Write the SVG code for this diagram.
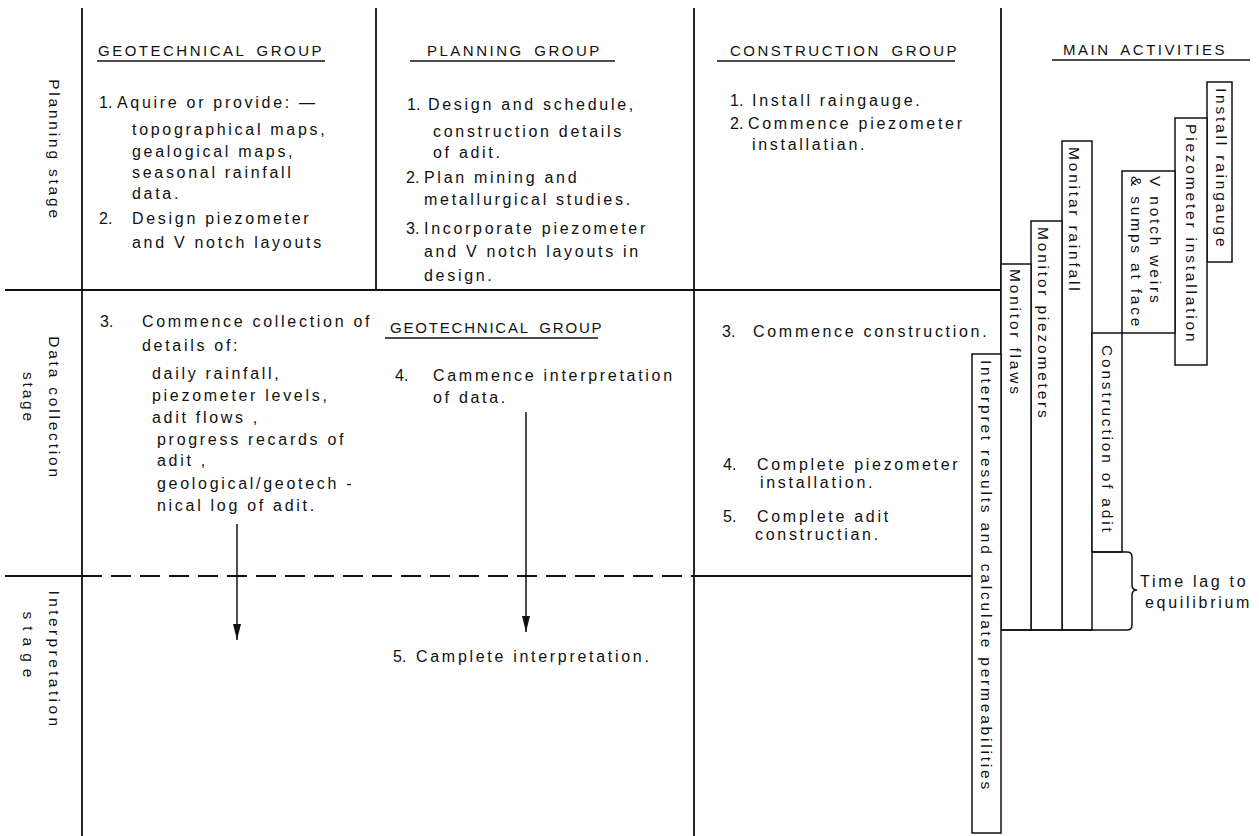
<svg xmlns="http://www.w3.org/2000/svg" width="1259" height="836" viewBox="0 0 1259 836">
  <defs>
    <marker id="arrowhead" viewBox="0 0 16 8" refX="16" refY="4" markerWidth="16" markerHeight="8" markerUnits="userSpaceOnUse" orient="auto">
      <path d="M0,0 L16,4 L0,8 z" fill="#111"/>
    </marker>
    <style>
      .t { font-family: "Liberation Sans", Arial, sans-serif; font-size: 16px; letter-spacing: 2.7px; fill: #111; }
      .n { letter-spacing: 0; }
      .h { font-size: 15px; letter-spacing: 2.5px; word-spacing: 4px; }
      .v { font-size: 15.5px; letter-spacing: 2.8px; }
      .frame { stroke: #111; stroke-width: 1.8; fill: none; }
      .rule { stroke: #111; stroke-width: 1.3; fill: none; }
      .box { fill: #fff; stroke: #111; stroke-width: 1.5; }
      .arrow { stroke: #111; stroke-width: 1.5; fill: none; marker-end: url(#arrowhead); }
    </style>
  </defs>

  <rect width="1259" height="836" fill="#fff"/>

  <!-- table frame -->
  <g id="frame">
    <line class="frame" x1="82" y1="8" x2="82" y2="836"/>
    <line class="frame" x1="376" y1="8" x2="376" y2="290"/>
    <line class="frame" x1="694" y1="8" x2="694" y2="836"/>
    <line class="frame" x1="1001" y1="8" x2="1001" y2="630"/>
    <line class="frame" x1="5" y1="290" x2="1001" y2="290"/>
    <line class="frame" x1="5" y1="576" x2="82" y2="576"/>
    <line class="frame" x1="82" y1="576" x2="694" y2="576" stroke-dasharray="20 9"/>
    <line class="frame" x1="694" y1="576" x2="972" y2="576"/>
  </g>

  <!-- stage labels -->
  <g id="stage-planning">
    <text class="t v" text-anchor="middle" transform="translate(49,150) rotate(90)">Planning stage</text>
  </g>
  <g id="stage-data">
    <text class="t v" text-anchor="middle" transform="translate(49,408) rotate(90)">Data collection</text>
    <text class="t v" text-anchor="middle" transform="translate(23,398) rotate(90)">stage</text>
  </g>
  <g id="stage-interpretation">
    <text class="t v" text-anchor="middle" style="letter-spacing:3.4px" transform="translate(49,660) rotate(90)">Interpretation</text>
    <text class="t v" text-anchor="middle" style="letter-spacing:7px" transform="translate(23,648) rotate(90)">stage</text>
  </g>

  <!-- column headings -->
  <g id="head-geotechnical">
    <text class="t h" x="98" y="56">GEOTECHNICAL GROUP</text>
    <line class="rule" x1="97" y1="61" x2="325" y2="61"/>
  </g>
  <g id="head-planning">
    <text class="t h" x="427" y="56">PLANNING GROUP</text>
    <line class="rule" x1="410" y1="61" x2="615" y2="61"/>
  </g>
  <g id="head-construction">
    <text class="t h" x="730" y="56">CONSTRUCTION GROUP</text>
    <line class="rule" x1="717" y1="61" x2="955" y2="61"/>
  </g>
  <g id="head-main">
    <text class="t h" x="1063" y="55">MAIN ACTIVITIES</text>
    <line class="rule" x1="1052" y1="60" x2="1250" y2="60"/>
  </g>

  <!-- planning stage entries -->
  <g id="geo-planning">
    <text class="t n" x="99" y="108">1.</text>
    <text class="t" x="117" y="108">Aquire or provide: —</text>
    <text class="t" x="132" y="135">topographical maps,</text>
    <text class="t" x="132" y="157">gealogical maps,</text>
    <text class="t" x="132" y="178">seasonal rainfall</text>
    <text class="t" x="132" y="199">data.</text>
    <text class="t n" x="99" y="224">2.</text>
    <text class="t" x="132" y="224">Design piezometer</text>
    <text class="t" x="132" y="248">and V notch layouts</text>
  </g>
  <g id="plan-planning">
    <text class="t n" x="407" y="110">1.</text>
    <text class="t" x="428" y="110">Design and schedule,</text>
    <text class="t" x="433" y="137">construction details</text>
    <text class="t" x="433" y="158">of adit.</text>
    <text class="t n" x="406" y="183">2.</text>
    <text class="t" x="424" y="183">Plan mining and</text>
    <text class="t" x="424" y="205">metallurgical studies.</text>
    <text class="t n" x="406" y="234">3.</text>
    <text class="t" x="424" y="234">Incorporate piezometer</text>
    <text class="t" x="424" y="257">and V notch layouts in</text>
    <text class="t" x="424" y="281">design.</text>
  </g>
  <g id="con-planning">
    <text class="t n" x="730" y="106">1.</text>
    <text class="t" x="752" y="106">Install raingauge.</text>
    <text class="t n" x="730" y="129">2.</text>
    <text class="t" x="748" y="129">Commence piezometer</text>
    <text class="t" x="752" y="150">installatian.</text>
  </g>

  <!-- data collection stage entries -->
  <g id="geo-data">
    <text class="t n" x="100" y="327">3.</text>
    <text class="t" x="142" y="327">Commence collection of</text>
    <text class="t" x="142" y="351">details of:</text>
    <text class="t" x="152" y="379">daily rainfall,</text>
    <text class="t" x="152" y="401">piezometer levels,</text>
    <text class="t" x="152" y="423">adit flows ,</text>
    <text class="t" x="157" y="445">progress recards of</text>
    <text class="t" x="157" y="466">adit ,</text>
    <text class="t" x="157" y="489">geological/geotech -</text>
    <text class="t" x="157" y="511">nical log of adit.</text>
  </g>
  <g id="geo-interpretation">
    <text class="t h" style="letter-spacing:1.8px" x="390" y="333">GEOTECHNICAL GROUP</text>
    <line class="rule" x1="385" y1="338" x2="598" y2="338"/>
    <text class="t n" x="395" y="381">4.</text>
    <text class="t" x="433" y="381">Cammence interpretation</text>
    <text class="t" x="433" y="403">of data.</text>
    <text class="t n" x="393" y="662">5.</text>
    <text class="t" x="416" y="662">Camplete interpretation.</text>
  </g>
  <g id="con-data">
    <text class="t n" x="722" y="337">3.</text>
    <text class="t" x="753" y="337">Commence construction.</text>
    <text class="t n" x="723" y="470">4.</text>
    <text class="t" x="757" y="470">Complete piezometer</text>
    <text class="t" x="760" y="488">installation.</text>
    <text class="t n" x="723" y="522">5.</text>
    <text class="t" x="757" y="522">Complete adit</text>
    <text class="t" x="755" y="540">constructian.</text>
  </g>

  <!-- activity bars -->
  <g id="bar-install-raingauge">
    <rect class="box" x="1207" y="82" width="25" height="180"/>
    <text class="t v" transform="translate(1216,88) rotate(90)">Install raingauge</text>
  </g>
  <g id="bar-piezometer-installation">
    <rect class="box" x="1175" y="118" width="32" height="247"/>
    <text class="t v" transform="translate(1186,124) rotate(90)">Piezometer installation</text>
  </g>
  <g id="bar-v-notch">
    <rect class="box" x="1122" y="171" width="53" height="162"/>
    <text class="t v" transform="translate(1150,176) rotate(90)">V notch weirs</text>
    <text class="t v" transform="translate(1131,176) rotate(90)">&amp; sumps at face</text>
  </g>
  <g id="bar-monitor-rainfall">
    <rect class="box" x="1062" y="141" width="30" height="489"/>
    <text class="t v" transform="translate(1069,147) rotate(90)">Monitar rainfall</text>
  </g>
  <g id="bar-monitor-piezometers">
    <rect class="box" x="1031" y="221" width="31" height="409"/>
    <text class="t v" transform="translate(1038,227) rotate(90)">Monitor piezometers</text>
  </g>
  <g id="bar-monitor-flows">
    <rect class="box" x="1001" y="264" width="30" height="366"/>
    <text class="t v" transform="translate(1010,269) rotate(90)">Monitor flaws</text>
  </g>
  <g id="bar-construction-adit">
    <rect class="box" x="1092" y="333" width="30" height="219"/>
    <text class="t v" transform="translate(1102,345) rotate(90)">Construction of adit</text>
  </g>
  <g id="bar-interpret">
    <rect class="box" x="972" y="354" width="29" height="479"/>
    <text class="t v" transform="translate(981,360) rotate(90)">Interpret results and calculate permeabilities</text>
  </g>

  <!-- time lag bracket -->
  <g id="time-lag">
    <path class="rule" style="stroke-width:1.5" d="M1092,552 L1127,552 Q1132,552 1132,557 L1132,585 Q1132,590 1137,590 Q1132,590 1132,595 L1132,625 Q1132,630 1127,630 L1001,630"/>
    <text class="t" x="1140" y="587">Time lag to</text>
    <text class="t" x="1145" y="608">equilibrium</text>
  </g>

  <!-- connectors -->
  <g id="connectors">
    <line class="arrow" x1="237" y1="524" x2="237" y2="640"/>
    <line class="arrow" x1="526" y1="412" x2="526" y2="632"/>
  </g>
</svg>
